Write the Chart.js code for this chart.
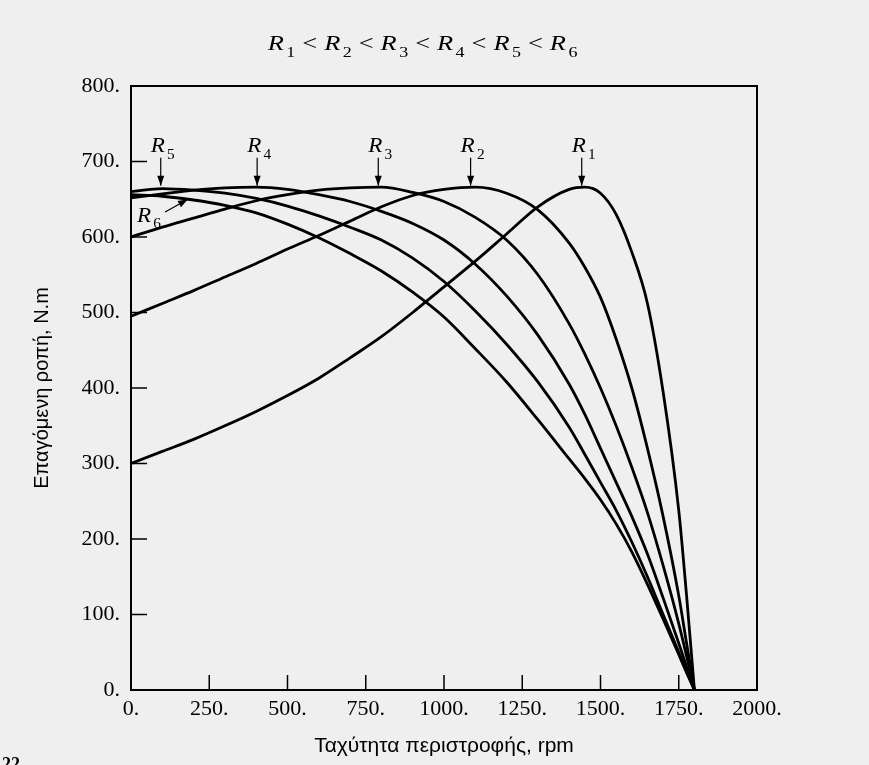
<!DOCTYPE html>
<html>
<head>
<meta charset="utf-8">
<script src="https://cdn.jsdelivr.net/npm/chart.js@4.4.1/dist/chart.umd.min.js"></script>
<style>
  body { margin: 0; background: #efefef; }
  #wrap { width: 869px; height: 765px; }
</style>
</head>
<body>
<div id="wrap"><canvas id="torqueChart" width="869" height="765"></canvas></div>
<script>
// Shaft speed samples (rpm)
const speeds = [0, 100, 200, 300, 400, 500, 600, 700, 800, 900, 1000, 1100, 1200, 1300, 1400, 1450, 1500, 1550, 1600, 1650, 1700, 1750, 1775, 1800];

// Induced torque (N.m) for each rotor resistance
const torqueR1 = [300, 316, 332, 350, 369, 390, 413, 440, 468, 500, 534, 568, 604, 640, 663, 666, 658, 630, 580, 512, 395, 238, 125, 0];
const torqueR2 = [495, 512, 529, 547, 565, 584, 602, 621, 640, 655, 663, 666, 658, 636, 592, 560, 520, 465, 400, 320, 230, 125, 62, 0];
const torqueR3 = [600, 613, 625, 637, 648, 656, 662, 665, 666, 659, 647, 626, 596, 550, 485, 445, 400, 350, 295, 235, 165, 88, 45, 0];
const torqueR4 = [652, 657, 662, 665, 666, 663, 656, 647, 634, 618, 596, 564, 522, 470, 405, 365, 320, 275, 230, 180, 122, 62, 31, 0];
const torqueR5 = [660, 664, 662, 658, 651, 641, 628, 613, 596, 572, 541, 502, 458, 408, 348, 312, 275, 238, 196, 150, 100, 50, 25, 0];
const torqueR6 = [656, 654, 649, 642, 632, 617, 599, 578, 555, 527, 494, 452, 408, 358, 306, 280, 252, 220, 183, 140, 94, 47, 23, 0];

const curveSubs = ['1', '2', '3', '4', '5', '6'];
const curveData = [torqueR1, torqueR2, torqueR3, torqueR4, torqueR5, torqueR6];

// Where the peak markers sit (rpm of each maximum)
const peakMarks = [
    { sub: '5', rpm: 95 },
    { sub: '4', rpm: 403 },
    { sub: '3', rpm: 790 },
    { sub: '2', rpm: 1085 },
    { sub: '1', rpm: 1440 }
];

const serif = '"Liberation Serif", "Times New Roman", serif';
const sans = '"Liberation Sans", Arial, sans-serif';

// Draw an italic R with an upright subscript, returns width used
function drawR(c, x, y, sub, size, sx) {
    sx = sx || 1;
    c.save();
    c.translate(x, y);
    c.scale(sx, 1);
    c.font = 'italic ' + size + 'px ' + serif;
    c.fillText('R', 0, 0);
    const w = c.measureText('R').width;
    c.font = Math.round(size * 0.68) + 'px ' + serif;
    c.fillText(sub, w + 2, size * 0.3);
    const total = w + 2 + c.measureText(sub).width;
    c.restore();
    return total * sx;
}

function arrowHead(c, x1, y1, x2, y2) {
    const ang = Math.atan2(y2 - y1, x2 - x1);
    c.beginPath();
    c.moveTo(x1, y1);
    c.lineTo(x2, y2);
    c.stroke();
    c.beginPath();
    c.moveTo(x2, y2);
    c.lineTo(x2 - 10 * Math.cos(ang) + 3.5 * Math.sin(ang), y2 - 10 * Math.sin(ang) - 3.5 * Math.cos(ang));
    c.lineTo(x2 - 10 * Math.cos(ang) - 3.5 * Math.sin(ang), y2 - 10 * Math.sin(ang) + 3.5 * Math.cos(ang));
    c.closePath();
    c.fill();
}

const paperPlugin = {
    id: 'paper',
    beforeDraw(chart) {
        const c = chart.ctx;
        c.save();
        c.fillStyle = '#efefef';
        c.fillRect(0, 0, chart.width, chart.height);
        c.restore();
    },
    afterDraw(chart) {
        const c = chart.ctx;
        const area = chart.chartArea;
        const xs = chart.scales.x;
        const ys = chart.scales.y;
        c.save();
        c.strokeStyle = '#000';
        c.fillStyle = '#000';

        // frame
        c.lineWidth = 2;
        c.strokeRect(area.left, area.top, area.right - area.left, area.bottom - area.top);

        // inward tick marks
        c.lineWidth = 1.5;
        c.beginPath();
        xs.ticks.forEach(t => {
            const px = xs.getPixelForValue(t.value);
            c.moveTo(px, area.bottom);
            c.lineTo(px, area.bottom - 15);
        });
        ys.ticks.forEach(t => {
            const py = ys.getPixelForValue(t.value);
            c.moveTo(area.left, py);
            c.lineTo(area.left + 16, py);
        });
        c.stroke();

        // peak labels with down arrows
        c.lineWidth = 1.2;
        c.textBaseline = 'alphabetic';
        peakMarks.forEach(m => {
            const px = xs.getPixelForValue(m.rpm);
            drawR(c, px - 10, ys.getPixelForValue(712), m.sub, 21, 1.1);
            arrowHead(c, px, ys.getPixelForValue(705), px, ys.getPixelForValue(668));
        });

        // R6 label with slanted arrow
        drawR(c, xs.getPixelForValue(19), ys.getPixelForValue(620), '6', 21, 1.1);
        arrowHead(c, xs.getPixelForValue(109), ys.getPixelForValue(633),
            xs.getPixelForValue(182), ys.getPixelForValue(650));

        // title R1 < R2 < ... < R6, drawn a little wide like the scan
        const sx = 1.2;
        c.font = '22px ' + serif;
        const ltW = c.measureText('<').width * sx;
        let total = 0;
        curveSubs.forEach((s, i) => {
            total += 25;
            if (i < curveSubs.length - 1) total += ltW + 14;
        });
        let tx = 415 - total / 2;
        curveSubs.forEach((s, i) => {
            const w = drawR(c, tx, 50, s, 22, sx);
            tx += w + 7;
            if (i < curveSubs.length - 1) {
                c.save();
                c.translate(tx, 50);
                c.scale(sx, 1);
                c.font = '22px ' + serif;
                c.fillText('<', 0, 0);
                c.restore();
                tx += ltW + 7;
            }
        });

        // page number fragment at bottom left
        c.font = 'bold 18px ' + serif;
        c.textBaseline = 'top';
        c.fillText('22', 2, 756);
        c.restore();
    }
};

const ctx = document.getElementById('torqueChart').getContext('2d');

const datasets = curveData.map((vals, i) => ({
    label: 'R' + curveSubs[i],
    data: speeds.map((s, j) => ({ x: s, y: vals[j] })),
    borderColor: '#000',
    borderWidth: 2.8,
    pointRadius: 0,
    fill: false,
    cubicInterpolationMode: 'monotone'
}));

new Chart(ctx, {
    type: 'line',
    data: { datasets: datasets },
    options: {
        responsive: false,
        animation: false,
        layout: { padding: { top: 86, right: 112, left: 0, bottom: 0 } },
        plugins: {
            legend: { display: false },
            tooltip: { enabled: false }
        },
        scales: {
            x: {
                type: 'linear',
                min: 0,
                max: 2000,
                afterFit: s => { s.height = 75; },
                grid: { display: false, drawTicks: false },
                border: { display: false },
                ticks: {
                    stepSize: 250,
                    padding: 6,
                    maxRotation: 0,
                    color: '#000',
                    font: { family: serif, size: 22 },
                    callback: v => v + '.'
                },
                title: {
                    display: true,
                    text: 'Ταχύτητα περιστροφής, rpm',
                    color: '#000',
                    font: { family: sans, size: 21 },
                    padding: { top: 0, bottom: 6 }
                }
            },
            y: {
                min: 0,
                max: 800,
                afterFit: s => { s.width = 131; },
                grid: { display: false, drawTicks: false },
                border: { display: false },
                ticks: {
                    stepSize: 100,
                    padding: 11,
                    color: '#000',
                    font: { family: serif, size: 22 },
                    callback: v => v + '.'
                },
                title: {
                    display: true,
                    text: 'Επαγόμενη ροπή, N.m',
                    color: '#000',
                    font: { family: sans, size: 20 },
                    padding: { top: 30, bottom: 0 }
                }
            }
        }
    },
    plugins: [paperPlugin]
});
</script>
</body>
</html>
